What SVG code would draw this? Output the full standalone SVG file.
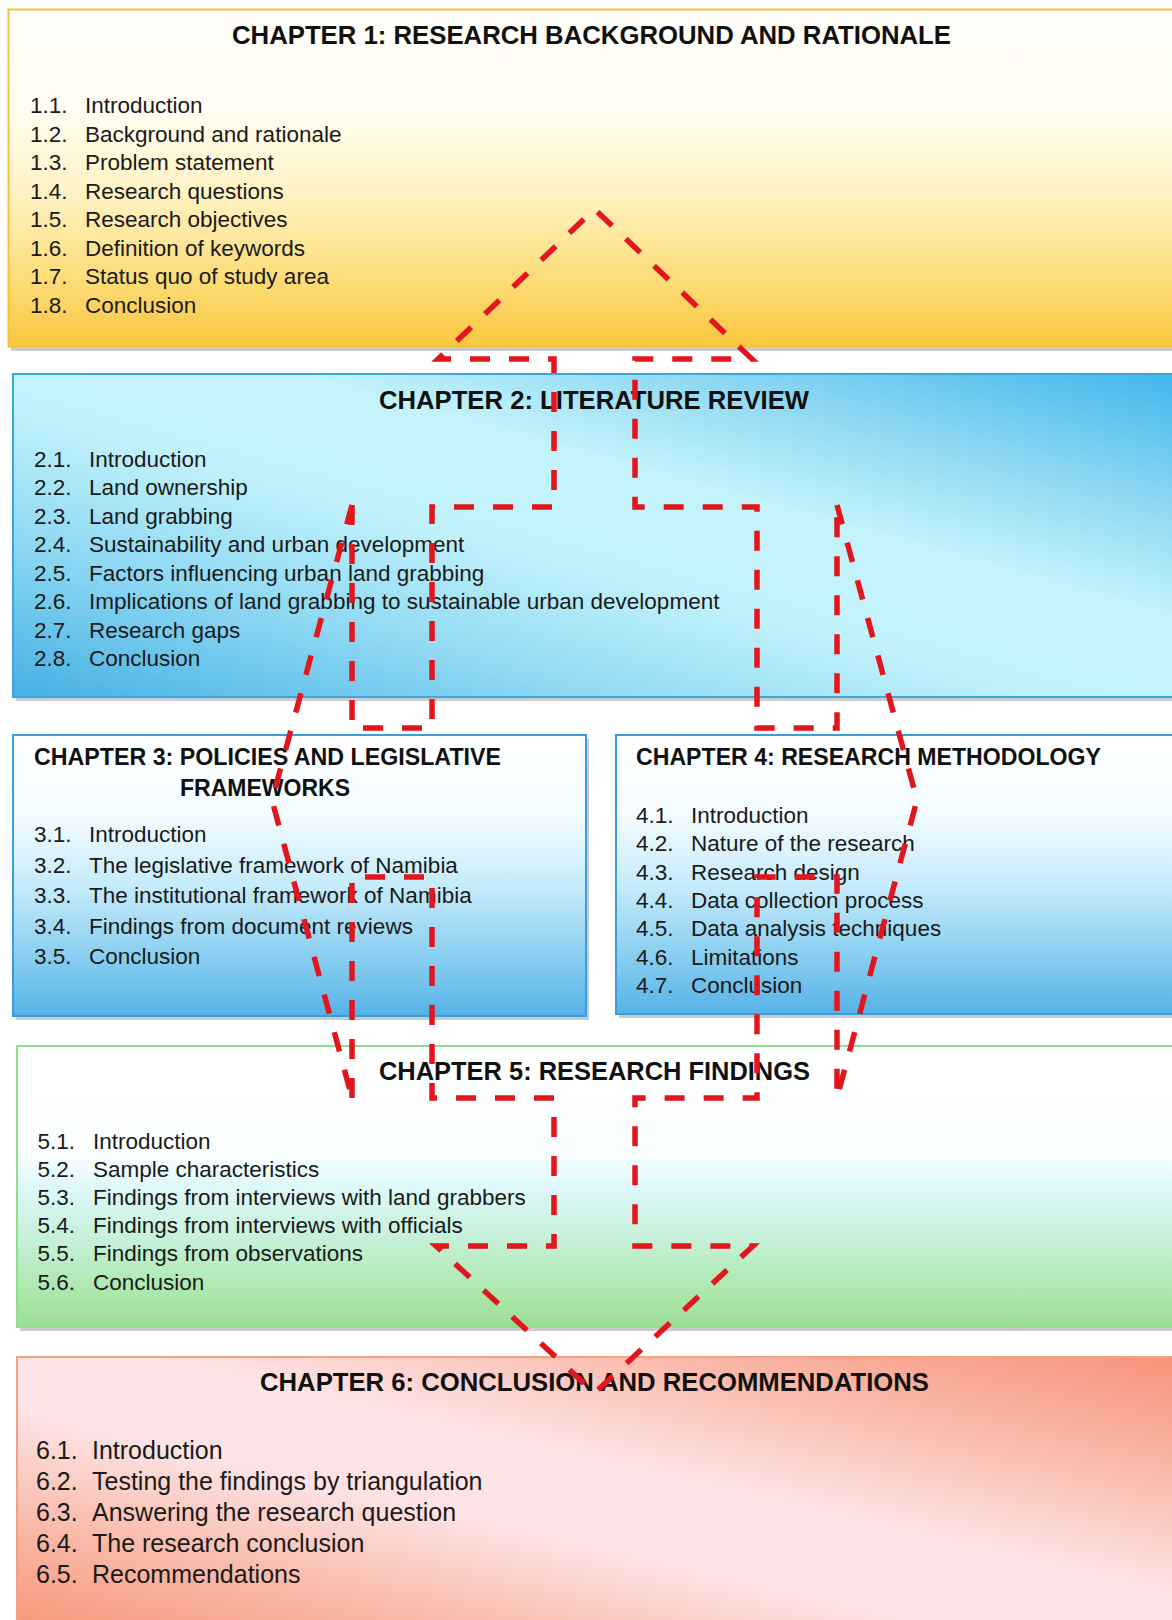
<svg xmlns="http://www.w3.org/2000/svg" width="1172" height="1620" viewBox="0 0 1172 1620">
  <style>
    .title { font-family: "Liberation Sans", Arial, sans-serif; font-weight: bold; font-size: 25px; fill: #111; }
    .title-s { font-family: "Liberation Sans", Arial, sans-serif; font-weight: bold; font-size: 23px; fill: #111; }
    .item { font-family: "Liberation Sans", Arial, sans-serif; font-size: 22.5px; fill: #1a1a1a; }
    .item-l { font-family: "Liberation Sans", Arial, sans-serif; font-size: 25px; fill: #1a1a1a; }
    .shadow { fill: #8c8c8c; opacity: 0.45; }
    .flow { fill: none; stroke: #e3151d; stroke-width: 5.5; stroke-dasharray: 20 19; stroke-linejoin: miter; }
  </style>
  <defs>
    <linearGradient id="gYellow" x1="0" y1="0" x2="0" y2="1">
      <stop offset="0" stop-color="#fffefa"/>
      <stop offset="0.3" stop-color="#fffdf2"/>
      <stop offset="0.55" stop-color="#fff2c2"/>
      <stop offset="0.8" stop-color="#fddc78"/>
      <stop offset="1" stop-color="#f8c63e"/>
    </linearGradient>
    <linearGradient id="gCyan" x1="0" y1="1" x2="1" y2="0">
      <stop offset="0" stop-color="#45b0e4"/>
      <stop offset="0.25" stop-color="#8fd9f3"/>
      <stop offset="0.45" stop-color="#c2f2fb"/>
      <stop offset="0.62" stop-color="#c4f3fb"/>
      <stop offset="0.8" stop-color="#8ad6f2"/>
      <stop offset="1" stop-color="#3fb6ec"/>
    </linearGradient>
    <linearGradient id="gBlue" x1="0" y1="0" x2="0" y2="1">
      <stop offset="0" stop-color="#ffffff"/>
      <stop offset="0.3" stop-color="#f2fbff"/>
      <stop offset="0.55" stop-color="#c3eafa"/>
      <stop offset="0.8" stop-color="#86cdf0"/>
      <stop offset="1" stop-color="#56b2e6"/>
    </linearGradient>
    <linearGradient id="gGreen" x1="0" y1="0" x2="0" y2="1">
      <stop offset="0" stop-color="#ffffff"/>
      <stop offset="0.38" stop-color="#fbfeff"/>
      <stop offset="0.5" stop-color="#def8fa"/>
      <stop offset="0.7" stop-color="#c4f0d6"/>
      <stop offset="0.9" stop-color="#a8e6a6"/>
      <stop offset="1" stop-color="#9cdc98"/>
    </linearGradient>
    <linearGradient id="gSalmon" x1="1" y1="0" x2="0" y2="1">
      <stop offset="0" stop-color="#f7927a"/>
      <stop offset="0.2" stop-color="#f9b5a4"/>
      <stop offset="0.45" stop-color="#fde5e7"/>
      <stop offset="0.6" stop-color="#fde3e5"/>
      <stop offset="0.82" stop-color="#f9b7a5"/>
      <stop offset="1" stop-color="#f7977a"/>
    </linearGradient>
  </defs>

  <rect width="1172" height="1620" fill="#ffffff"/>

  <!-- Chapter 1 -->
  <g id="chapter1">
    <rect class="shadow" x="11" y="13" width="1165" height="338"/>
    <rect x="8.5" y="9.5" width="1170" height="337" fill="url(#gYellow)" stroke="#f3c530" stroke-width="2"/>
    <text class="title" x="232" y="44" textLength="719" lengthAdjust="spacingAndGlyphs">CHAPTER 1: RESEARCH BACKGROUND AND RATIONALE</text>
    <text class="item" x="30" y="113">1.1.</text><text class="item" x="85" y="113">Introduction</text>
    <text class="item" x="30" y="141.6">1.2.</text><text class="item" x="85" y="141.6">Background and rationale</text>
    <text class="item" x="30" y="170.1">1.3.</text><text class="item" x="85" y="170.1">Problem statement</text>
    <text class="item" x="30" y="198.7">1.4.</text><text class="item" x="85" y="198.7">Research questions</text>
    <text class="item" x="30" y="227.3">1.5.</text><text class="item" x="85" y="227.3">Research objectives</text>
    <text class="item" x="30" y="255.9">1.6.</text><text class="item" x="85" y="255.9">Definition of keywords</text>
    <text class="item" x="30" y="284.4">1.7.</text><text class="item" x="85" y="284.4">Status quo of study area</text>
    <text class="item" x="30" y="313">1.8.</text><text class="item" x="85" y="313">Conclusion</text>
  </g>

  <!-- Chapter 2 -->
  <g id="chapter2">
    <rect class="shadow" x="16" y="378" width="1160" height="323"/>
    <rect x="13" y="374" width="1165" height="323" fill="url(#gCyan)" stroke="#3ba6e4" stroke-width="2"/>
    <text class="title" x="379" y="409" textLength="430" lengthAdjust="spacingAndGlyphs">CHAPTER 2: LITERATURE REVIEW</text>
    <text class="item" x="34" y="467">2.1.</text><text class="item" x="89" y="467">Introduction</text>
    <text class="item" x="34" y="495.4">2.2.</text><text class="item" x="89" y="495.4">Land ownership</text>
    <text class="item" x="34" y="523.9">2.3.</text><text class="item" x="89" y="523.9">Land grabbing</text>
    <text class="item" x="34" y="552.3">2.4.</text><text class="item" x="89" y="552.3">Sustainability and urban development</text>
    <text class="item" x="34" y="580.7">2.5.</text><text class="item" x="89" y="580.7">Factors influencing urban land grabbing</text>
    <text class="item" x="34" y="609.2">2.6.</text><text class="item" x="89" y="609.2">Implications of land grabbing to sustainable urban development</text>
    <text class="item" x="34" y="637.6">2.7.</text><text class="item" x="89" y="637.6">Research gaps</text>
    <text class="item" x="34" y="666">2.8.</text><text class="item" x="89" y="666">Conclusion</text>
  </g>

  <!-- Chapter 3 -->
  <g id="chapter3">
    <rect class="shadow" x="16" y="739" width="573" height="281"/>
    <rect x="13" y="735" width="573" height="281" fill="url(#gBlue)" stroke="#3a9de0" stroke-width="2"/>
    <text class="title-s" x="34" y="765" textLength="467" lengthAdjust="spacingAndGlyphs">CHAPTER 3: POLICIES AND LEGISLATIVE</text>
    <text class="title-s" x="180" y="796" textLength="170" lengthAdjust="spacingAndGlyphs">FRAMEWORKS</text>
    <text class="item" x="34" y="842">3.1.</text><text class="item" x="89" y="842">Introduction</text>
    <text class="item" x="34" y="872.5">3.2.</text><text class="item" x="89" y="872.5">The legislative framework of Namibia</text>
    <text class="item" x="34" y="903">3.3.</text><text class="item" x="89" y="903">The institutional framework of Namibia</text>
    <text class="item" x="34" y="933.5">3.4.</text><text class="item" x="89" y="933.5">Findings from document reviews</text>
    <text class="item" x="34" y="964">3.5.</text><text class="item" x="89" y="964">Conclusion</text>
  </g>

  <!-- Chapter 4 -->
  <g id="chapter4">
    <rect class="shadow" x="619" y="739" width="560" height="279"/>
    <rect x="616" y="735" width="562" height="279" fill="url(#gBlue)" stroke="#3a9de0" stroke-width="2"/>
    <text class="title-s" x="636" y="765" textLength="465" lengthAdjust="spacingAndGlyphs">CHAPTER 4: RESEARCH METHODOLOGY</text>
    <text class="item" x="636" y="823">4.1.</text><text class="item" x="691" y="823">Introduction</text>
    <text class="item" x="636" y="851.3">4.2.</text><text class="item" x="691" y="851.3">Nature of the research</text>
    <text class="item" x="636" y="879.6">4.3.</text><text class="item" x="691" y="879.6">Research design</text>
    <text class="item" x="636" y="907.9">4.4.</text><text class="item" x="691" y="907.9">Data collection process</text>
    <text class="item" x="636" y="936.2">4.5.</text><text class="item" x="691" y="936.2">Data analysis techniques</text>
    <text class="item" x="636" y="964.5">4.6.</text><text class="item" x="691" y="964.5">Limitations</text>
    <text class="item" x="636" y="992.8">4.7.</text><text class="item" x="691" y="992.8">Conclusion</text>
  </g>

  <!-- Chapter 5 -->
  <g id="chapter5">
    <rect class="shadow" x="20" y="1050" width="1160" height="281"/>
    <rect x="17" y="1046" width="1161" height="281" fill="url(#gGreen)" stroke="#8ee08a" stroke-width="2"/>
    <text class="title" x="379" y="1080" textLength="431" lengthAdjust="spacingAndGlyphs">CHAPTER 5: RESEARCH FINDINGS</text>
    <text class="item" x="37.5" y="1149">5.1.</text><text class="item" x="93" y="1149">Introduction</text>
    <text class="item" x="37.5" y="1177.1">5.2.</text><text class="item" x="93" y="1177.1">Sample characteristics</text>
    <text class="item" x="37.5" y="1205.2">5.3.</text><text class="item" x="93" y="1205.2">Findings from interviews with land grabbers</text>
    <text class="item" x="37.5" y="1233.3">5.4.</text><text class="item" x="93" y="1233.3">Findings from interviews with officials</text>
    <text class="item" x="37.5" y="1261.4">5.5.</text><text class="item" x="93" y="1261.4">Findings from observations</text>
    <text class="item" x="37.5" y="1289.5">5.6.</text><text class="item" x="93" y="1289.5">Conclusion</text>
  </g>

  <!-- Chapter 6 -->
  <g id="chapter6">
    <rect x="17" y="1357" width="1161" height="270" fill="url(#gSalmon)" stroke="#f5a080" stroke-width="2"/>
    <text class="title" x="260" y="1391" textLength="669" lengthAdjust="spacingAndGlyphs">CHAPTER 6: CONCLUSION AND RECOMMENDATIONS</text>
    <text class="item-l" x="36" y="1459">6.1.</text><text class="item-l" x="92" y="1459">Introduction</text>
    <text class="item-l" x="36" y="1490">6.2.</text><text class="item-l" x="92" y="1490">Testing the findings by triangulation</text>
    <text class="item-l" x="36" y="1521">6.3.</text><text class="item-l" x="92" y="1521">Answering the research question</text>
    <text class="item-l" x="36" y="1552">6.4.</text><text class="item-l" x="92" y="1552">The research conclusion</text>
    <text class="item-l" x="36" y="1583">6.5.</text><text class="item-l" x="92" y="1583">Recommendations</text>
  </g>

  <!-- Dashed flow outlines linking the chapters -->
  <g id="connectors">
    <!-- upward arrow into chapter 1, splitting towards chapters 3 and 4 -->
    <path class="flow" d="M352,505 L352,728 L432,728 L432,507 L554,507 L554,359 L438,359 L594.5,209 L752,359 L635,359 L635,507 L757,507 L757,728 L837,728 L837,505"/>
    <!-- side chevrons -->
    <path class="flow" d="M352,505 L272,800 L352,1098"/>
    <path class="flow" d="M837,505 L917,800 L837,1098"/>
    <!-- merge from chapters 3 and 4 down into chapter 6 -->
    <path class="flow" d="M352,1098 L352,877 L432,877 L432,1098 L554,1098 L554,1246 L436,1246 L594.5,1393 L753,1246 L635,1246 L635,1098 L757,1098 L757,877 L837,877 L837,1098"/>
  </g>
</svg>
